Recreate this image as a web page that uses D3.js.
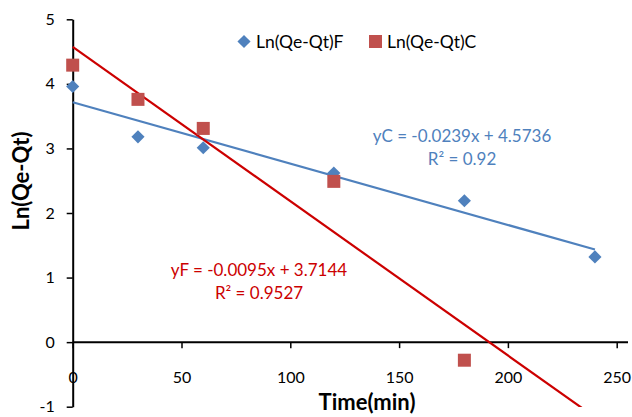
<!DOCTYPE html>
<html>
<head>
<meta charset="utf-8">
<script src="https://cdn.jsdelivr.net/npm/d3@7"></script>
<style>
  body { margin: 0; background: #fff; }
  text { font-family: Lato, "Open Sans", sans-serif; }
</style>
</head>
<body>
<div id="chart"></div>
<script>
const width = 632;
const height = 417;

// data
const timesF = [0, 30, 60, 120, 180, 240];
const valuesF = [3.96, 3.18, 3.01, 2.62, 2.19, 1.32];
const timesC = [0, 30, 60, 120, 180];
const valuesC = [4.29, 3.76, 3.31, 2.49, -0.28];
const xTicks = [0, 50, 100, 150, 200, 250];
const yTicks = [-1, 0, 1, 2, 3, 4, 5];
// trendlines as printed on the chart
const fitF = { slope: -0.0095, intercept: 3.7144, from: 0, to: 240 };
const fitC = { slope: -0.0239, intercept: 4.5736, from: 0, to: 240 };
const labelF = ['yF = -0.0095x + 3.7144', 'R² = 0.9527'];
const labelC = ['yC = -0.0239x + 4.5736', 'R² = 0.92'];

const blue = '#4f81bd';
const red = '#c0504d';
const redLine = '#cc0000';

const x = d3.scaleLinear().domain([0, 250]).range([72.7, 616.7]);
const y = d3.scaleLinear().domain([-1, 5]).range([406.7, 19.3]);

const svg = d3.select('#chart')
  .append('svg')
  .attr('width', width)
  .attr('height', height);

svg.append('defs').append('clipPath')
  .attr('id', 'plot')
  .append('rect')
  .attr('x', 72).attr('y', 19)
  .attr('width', 560).attr('height', 388);

// y axis (plain hyphen for negatives, like the original)
const yAxis = svg.append('g')
  .attr('transform', `translate(${x(0)},0)`)
  .call(d3.axisLeft(y).tickValues(yTicks).tickFormat(d => String(d))
    .tickSize(6).tickSizeOuter(0).tickPadding(12));
yAxis.select('.domain').attr('stroke', '#000').attr('stroke-width', 2);
yAxis.selectAll('.tick line').attr('stroke', '#000').attr('stroke-width', 1.5);
yAxis.selectAll('.tick text')
  .style('font-size', '16px')
  .style('fill', '#000');

// x axis on the zero line, labels pushed down
const xAxis = svg.append('g')
  .attr('transform', `translate(0,${y(0)})`)
  .call(d3.axisBottom(x).tickValues(xTicks).tickSize(6).tickSizeOuter(0).tickPadding(24));
xAxis.select('.domain').remove();
xAxis.append('line')
  .attr('x1', x(0)).attr('x2', 628)
  .attr('stroke', '#000').attr('stroke-width', 2);
xAxis.selectAll('.tick line').attr('stroke', '#000').attr('stroke-width', 1.5);
xAxis.selectAll('.tick text')
  .style('font-size', '16px')
  .style('fill', '#000');

// trendlines
const plot = svg.append('g').attr('clip-path', 'url(#plot)');
function fitLine(fit, color) {
  plot.append('line')
    .attr('x1', x(fit.from))
    .attr('y1', y(fit.intercept + fit.slope * fit.from))
    .attr('x2', x(fit.to))
    .attr('y2', y(fit.intercept + fit.slope * fit.to))
    .attr('stroke', color)
    .attr('stroke-width', 2.2);
}
fitLine(fitF, blue);
fitLine(fitC, redLine);

// markers
const diamond = d3.symbol().type(d3.symbolDiamond2).size(110);
svg.selectAll('.ptF')
  .data(timesF.map((t, i) => [t, valuesF[i]]))
  .enter()
  .append('path')
  .attr('class', 'ptF')
  .attr('d', diamond)
  .attr('transform', d => `translate(${x(d[0])},${y(d[1])})`)
  .attr('fill', blue);

svg.selectAll('.ptC')
  .data(timesC.map((t, i) => [t, valuesC[i]]))
  .enter()
  .append('rect')
  .attr('class', 'ptC')
  .attr('x', d => x(d[0]) - 6.5)
  .attr('y', d => y(d[1]) - 6.5)
  .attr('width', 13)
  .attr('height', 13)
  .attr('fill', red);

// equation labels
function eqLabel(lines, cx, cy, color) {
  svg.append('text')
    .attr('x', cx).attr('y', cy)
    .attr('text-anchor', 'middle')
    .style('font-size', '17px')
    .style('fill', color)
    .text(lines[0]);
  svg.append('text')
    .attr('x', cx).attr('y', cy + 23)
    .attr('text-anchor', 'middle')
    .style('font-size', '17px')
    .style('fill', color)
    .text(lines[1]);
}
eqLabel(labelC, 462, 142, blue);
eqLabel(labelF, 259, 276, redLine);

// legend
svg.append('path')
  .attr('d', diamond)
  .attr('transform', 'translate(244,41.5)')
  .attr('fill', blue);
svg.append('text')
  .attr('x', 256).attr('y', 47.5)
  .style('font-size', '17.5px')
  .text('Ln(Qe-Qt)F');
svg.append('rect')
  .attr('x', 369).attr('y', 35).attr('width', 13).attr('height', 13)
  .attr('fill', red);
svg.append('text')
  .attr('x', 387).attr('y', 47.5)
  .style('font-size', '17.5px')
  .text('Ln(Qe-Qt)C');

// axis titles
svg.append('text')
  .attr('x', 367).attr('y', 410)
  .attr('text-anchor', 'middle')
  .style('font-size', '22px')
  .style('font-weight', 'bold')
  .text('Time(min)');
svg.append('text')
  .attr('transform', 'translate(29,181) rotate(-90)')
  .attr('text-anchor', 'middle')
  .style('font-size', '22px')
  .style('font-weight', 'bold')
  .text('Ln(Qe-Qt)');
</script>
</body>
</html>
